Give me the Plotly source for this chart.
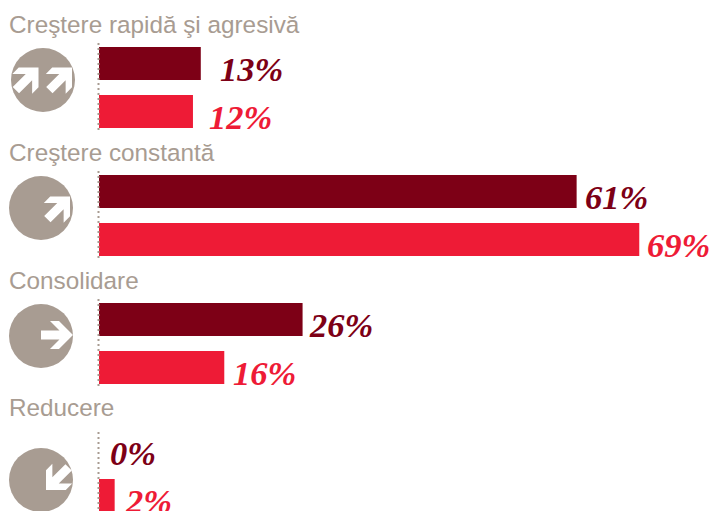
import math
import plotly.graph_objects as go

# Survey shares per outlook category, one dark and one bright bar each
categories = ["Creştere rapidă şi agresivă", "Creştere constantă", "Consolidare", "Reducere"]
series_dark = [13, 61, 26, 0]
series_bright = [12, 69, 16, 2]
COLOR_DARK = "#7d0016"
COLOR_BRIGHT = "#ee1b36"
COLOR_GREY = "#a89c92"

W, H = 713, 511
PX_PER_PCT = 7.83
AXIS_X = 99
GROUP_PITCH = 128
BAR_H = 33
dark_rows = [63.5 + i * GROUP_PITCH for i in range(4)]
bright_rows = [111.5 + i * GROUP_PITCH for i in range(4)]
title_y = [24, 152, 280, 407]
icon_centres = [(43, 80), (41, 208), (41, 336), (41, 480)]
icon_tips = [[(38.5, 67.5), (72, 67.5)], [(70, 196.5)], [(73, 335)], [(46, 490)]]
icon_angles = [-45, -45, 0, 135]
dark_gap = [19, 8, 6, 11]
bright_gap = [16, 8, 9, 10]
axis_spans = [(43, 133), (171, 261), (299, 389), (432, 511)]

fig = go.Figure()
fig.add_bar(x=series_dark, y=dark_rows, orientation="h", width=BAR_H,
            marker=dict(color=COLOR_DARK, line_width=0), hoverinfo="skip")
fig.add_bar(x=series_bright, y=bright_rows, orientation="h", width=BAR_H,
            marker=dict(color=COLOR_BRIGHT, line_width=0), hoverinfo="skip")


def paper_x(px):
    return px / W


# Dotted baselines beside each group
for y0, y1 in axis_spans:
    fig.add_shape(type="line", xref="paper", yref="y", x0=paper_x(98.5), x1=paper_x(98.5),
                  y0=y0, y1=y1, line=dict(color=COLOR_GREY, width=2, dash="2px 3px"))


def arrow_path(tx, ty, angle, size=1.0):
    # Arrow outline relative to its tip, pointing right before rotation
    pts = [(0, 0), (-14, -14), (-23, -14), (-13.5, -4.5), (-32, -4.5),
           (-32, 4.5), (-13.5, 4.5), (-23, 14), (-14, 14)]
    a = math.radians(angle)
    out = []
    for px, py in pts:
        px, py = px * size, py * size
        out.append((paper_x(tx + px * math.cos(a) - py * math.sin(a)),
                    ty + px * math.sin(a) + py * math.cos(a)))
    return "M" + " L".join(f"{x:.5f},{y:.1f}" for x, y in out) + " Z"


for (cx, cy), tips, ang in zip(icon_centres, icon_tips, icon_angles):
    fig.add_shape(type="circle", xref="paper", yref="y", x0=paper_x(cx - 32), x1=paper_x(cx + 32),
                  y0=cy - 32, y1=cy + 32, fillcolor=COLOR_GREY, line_width=0)
    for tx, ty in tips:
        fig.add_shape(type="path", xref="paper", yref="y",
                      path=arrow_path(tx, ty, ang), fillcolor="white", line_width=0)

for name, y in zip(categories, title_y):
    fig.add_annotation(text=name, xref="paper", yref="y", x=paper_x(9), y=y, xanchor="left",
                       yanchor="middle", showarrow=False, borderpad=0, borderwidth=0,
                       font=dict(family="Liberation Sans", size=24.3, color=COLOR_GREY))


def value_label(value, row, gap, color):
    fig.add_annotation(text=f"<b><i>{value}%</i></b>", xref="x", yref="y", x=value, y=row,
                       xanchor="left", yanchor="middle", xshift=gap, yshift=-5.5,
                       showarrow=False, borderpad=0, borderwidth=0,
                       font=dict(family="Liberation Serif", size=34.5, color=color))


for v, r, g in zip(series_dark, dark_rows, dark_gap):
    value_label(v, r, g, COLOR_DARK)
for v, r, g in zip(series_bright, bright_rows, bright_gap):
    value_label(v, r, g, COLOR_BRIGHT)

fig.update_layout(
    width=W, height=H, margin=dict(l=0, r=0, t=0, b=0),
    paper_bgcolor="white", plot_bgcolor="white", showlegend=False, barmode="overlay",
    xaxis=dict(domain=[0, 1], range=[-AXIS_X / PX_PER_PCT, (W - AXIS_X) / PX_PER_PCT], visible=False),
    yaxis=dict(domain=[0, 1], range=[H, 0], visible=False),
)
fig.write_html("out.html", config=dict(displayModeBar=False))
